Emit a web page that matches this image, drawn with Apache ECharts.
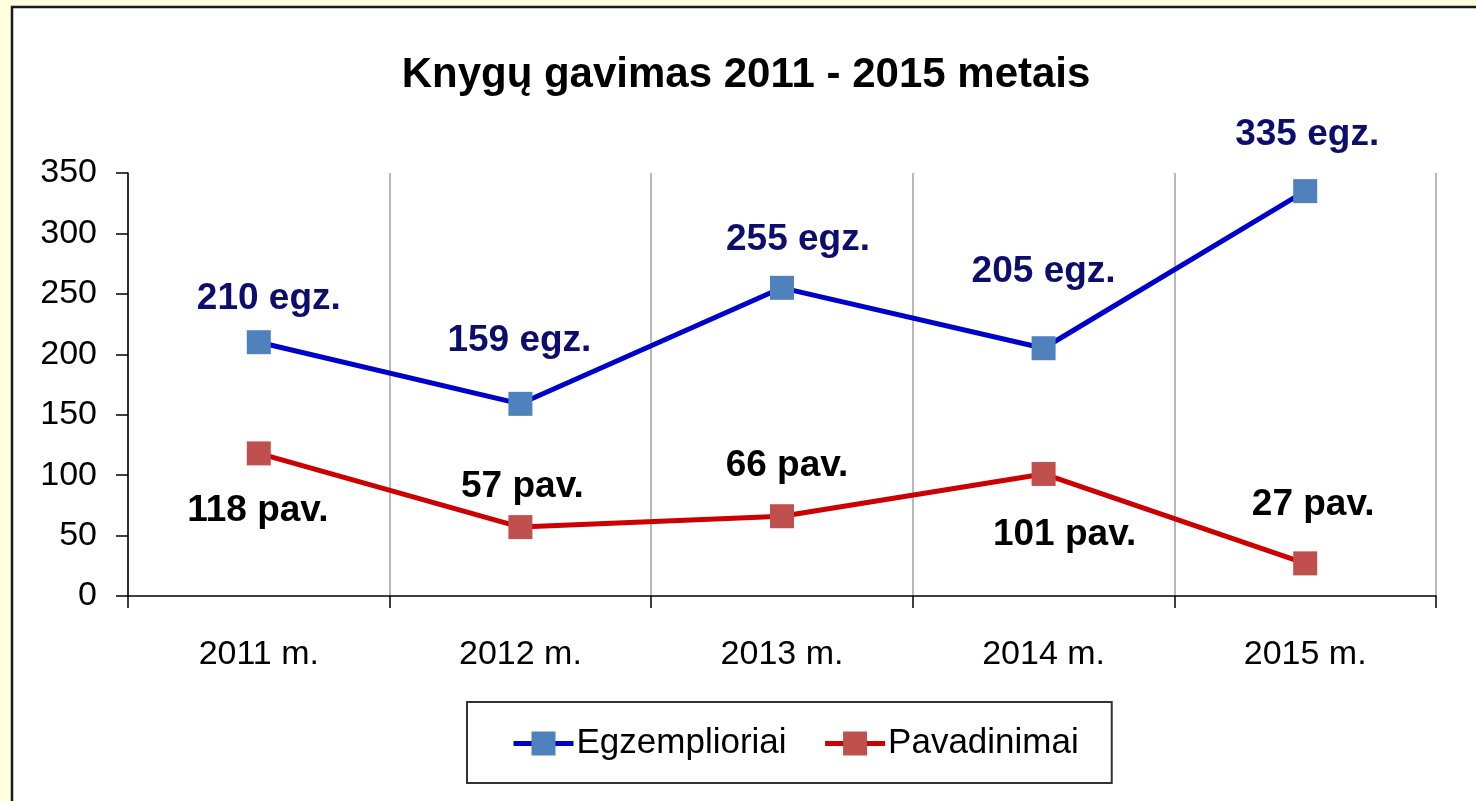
<!DOCTYPE html>
<html>
<head>
<meta charset="utf-8">
<script src="https://cdn.jsdelivr.net/npm/echarts@6/dist/echarts.min.js"></script>
<style>
  html, body { margin: 0; padding: 0; background: #FFFFE0; }
  #chart { width: 1476px; height: 801px; }
</style>
</head>
<body>
<div id="chart"></div>
<script>
// Knygų gavimas - copies vs. titles per year
const years = ['2011 m.', '2012 m.', '2013 m.', '2014 m.', '2015 m.'];
const copies = [210, 159, 255, 205, 335];   // Egzemplioriai
const titles = [118, 57, 66, 101, 27];      // Pavadinimai
const yTicks = [0, 50, 100, 150, 200, 250, 300, 350];

// hand-placed data labels (offset from the marker centre, px)
const copiesShift = [[10, -43], [-1, -63], [16, -48], [0, -76], [2, -56]];
const titlesShift = [[-1, 57], [2, -40], [5, -50], [21, 61], [8, -59]];

const FONT = '"Liberation Sans", Arial, sans-serif';

function labelled(values, shifts, suffix) {
  return values.map((v, i) => ({
    value: v,
    label: { offset: shifts[i], formatter: v + ' ' + suffix },
  }));
}

const chart = echarts.init(document.getElementById('chart'));
chart.setOption({
  backgroundColor: '#FFFFE0',
  animation: false,
  graphic: {
    elements: [{
      type: 'rect', z: -10,
      shape: { x: 12, y: 7, width: 1480, height: 810 },
      style: { fill: '#fff', stroke: '#1a1a1a', lineWidth: 2.5 },
    }],
  },
  title: {
    text: 'Knygų gavimas 2011 - 2015 metais',
    left: 746, top: 54, textAlign: 'center', padding: 0,
    textStyle: { fontFamily: FONT, fontSize: 42, fontWeight: 'bold', color: '#000' },
  },
  grid: { left: 128, right: 40, top: 173, bottom: 205 },
  legend: {
    left: 467, top: 702,
    padding: [24, 33, 22, 44],
    borderColor: '#333', borderWidth: 2,
    itemWidth: 60, itemHeight: 30, itemGap: 36,
    lineStyle: { width: 5 },
    textStyle: { fontFamily: FONT, fontSize: 35, color: '#000', padding: [0, 0, 0, -2] },
    data: ['Egzemplioriai', 'Pavadinimai'],
  },
  xAxis: {
    type: 'category', data: years, boundaryGap: true,
    axisLine: { lineStyle: { color: '#000', width: 1.5 } },
    axisTick: { show: true, interval: 0, length: 12, lineStyle: { color: '#000', width: 1.5 } },
    axisLabel: { fontFamily: FONT, fontSize: 34, color: '#000', margin: 42, interval: 0 },
    splitLine: { show: true, interval: 0, lineStyle: { color: '#a0a0a0', width: 1.5 } },
  },
  yAxis: {
    type: 'value', min: yTicks[0], max: yTicks[yTicks.length - 1], interval: 50,
    axisLine: { show: true, lineStyle: { color: '#000', width: 1.5 } },
    axisTick: { show: true, length: 12, lineStyle: { color: '#000', width: 1.5 } },
    axisLabel: { fontFamily: FONT, fontSize: 34, color: '#000', margin: 31 },
    splitLine: { show: false },
  },
  series: [
    {
      name: 'Egzemplioriai', type: 'line',
      data: labelled(copies, copiesShift, 'egz.'),
      symbol: 'rect', symbolSize: 24,
      lineStyle: { color: '#0000cc', width: 5 },
      itemStyle: { color: '#4f81bd' },
      label: {
        show: true, position: 'inside', align: 'center', verticalAlign: 'middle',
        fontFamily: FONT, fontSize: 37, fontWeight: 'bold', color: '#0d0d6e',
      },
    },
    {
      name: 'Pavadinimai', type: 'line',
      data: labelled(titles, titlesShift, 'pav.'),
      symbol: 'rect', symbolSize: 24,
      lineStyle: { color: '#cc0000', width: 5 },
      itemStyle: { color: '#c0504d' },
      label: {
        show: true, position: 'inside', align: 'center', verticalAlign: 'middle',
        fontFamily: FONT, fontSize: 37, fontWeight: 'bold', color: '#000',
      },
    },
  ],
});
</script>
</body>
</html>
